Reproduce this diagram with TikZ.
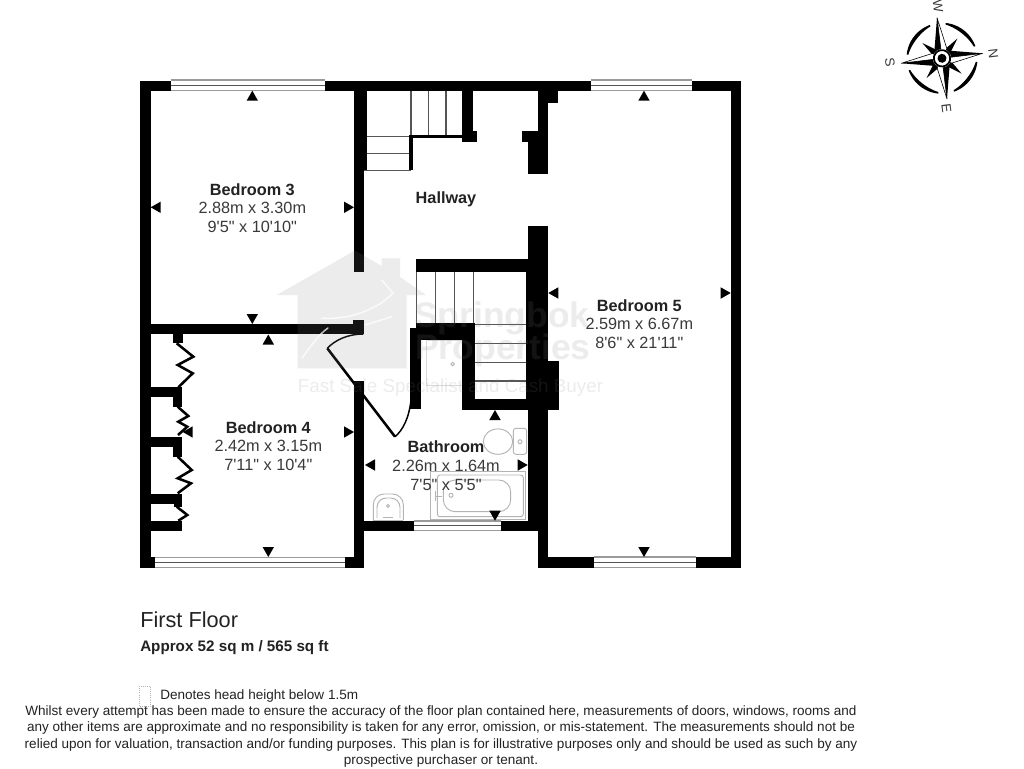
\documentclass[tikz,border=0pt]{standalone}
\usepackage{fontspec}
\setmainfont[Ligatures=TeXOff]{Liberation Sans}
\definecolor{labelgrey}{HTML}{3A3A3A}
\definecolor{namegrey}{HTML}{222222}
\definecolor{fixture}{HTML}{B4B4B4}
\definecolor{treadgrey}{HTML}{555555}
\definecolor{winedge}{HTML}{9A9A9A}
\definecolor{markgrey}{HTML}{808080}
\newcommand{\wallrect}[4]{\fill[black] (#1,#2) rectangle (#3,#4);}
\newcommand{\downtri}[2]{\fill[black] (#1,#2) -- ++(-5.7,-10) -- ++(11.4,0) -- cycle;}
\newcommand{\uptri}[2]{\fill[black] (#1,#2) -- ++(-5.7,10) -- ++(11.4,0) -- cycle;}
\newcommand{\lefttri}[2]{\fill[black] (#1,#2) -- ++(10,-5.7) -- ++(0,11.4) -- cycle;}
\newcommand{\righttri}[2]{\fill[black] (#1,#2) -- ++(-10,-5.7) -- ++(0,11.4) -- cycle;}
\newcommand{\hwindow}[4]{% x1 x2 ytop ybottom
  \fill[white] (#1,#3) rectangle (#2,#4);
  \draw[winedge,line width=0.9pt] (#1,#3) -- (#2,#3);
  \draw[winedge,line width=0.9pt] (#1,#4) -- (#2,#4);
  \draw[treadgrey,line width=0.9pt] (#1,{(#3+#4)/2}) -- (#2,{(#3+#4)/2});
}
\tikzset{
  roomname/.style={anchor=base,font=\fontsize{12.2pt}{14pt}\selectfont\bfseries,text=namegrey,inner sep=0pt},
  roomdim/.style={anchor=base,font=\fontsize{12.2pt}{14pt}\selectfont,text=labelgrey,inner sep=0pt},
  finetext/.style={anchor=base,font=\fontsize{10.15pt}{12pt}\selectfont,text=namegrey,inner sep=0pt},
  tread/.style={treadgrey,line width=0.8pt},
  fold/.style={black,line width=1.9pt,line join=miter},
  fixt/.style={fixture,line width=0.7pt},
  wmark/.style={markgrey,opacity=0.15},
  compassletter/.style={font=\fontsize{10pt}{11pt}\selectfont,text=labelgrey,inner sep=0pt,rotate=-83}
}
\begin{document}
\begin{tikzpicture}[x=0.75pt,y=-0.75pt]
\useasboundingbox (0,0) rectangle (1024,768);
\fill[white] (0,0) rectangle (1024,768);

% bathroom fixtures
\draw[fixt,rounded corners=2pt] (513.3,428.3) rectangle (526.7,454.3);
\draw[fixt] (498,441.6) ellipse [x radius=14.7,y radius=12.7];
\draw[fixt] (520,441.7) circle [radius=2];
\draw[fixt] (430,471.7) rectangle (525.7,519.3);
\draw[fixt,rounded corners=2pt] (437.3,475) rectangle (523.3,516.7);
\draw[fixt,rounded corners=9pt] (443.3,480) rectangle (510.7,511.7);
\draw[fixt] (451,495.3) circle [radius=2];
\draw[fixt] (435,496) -- (441.7,496);
\draw[fixt] (435,491) -- (435,501);
\draw[fixt,rounded corners=8pt] (373.3,520) -- (373.3,494) -- (403.3,494) -- (403.3,520);
\draw[fixt] (373.3,520) -- (403.3,520);
\draw[fixt,rounded corners=7pt] (377,518) -- (377,498) -- (400,498) -- (400,518);
\draw[fixt] (388,506) circle [radius=1.5];
\draw[fixt] (383,517) -- (393,517);
\draw[fixture!50,line width=0.7pt] (426.7,340) rectangle (462,385);
\draw[fixt] (452.7,364) circle [radius=1.8];

% stair treads
\foreach \tx in {411,428.7,446} \draw[tread] (\tx,90) -- (\tx,136);
\foreach \ty in {136.3,153.7,170.3} \draw[tread] (364,\ty) -- (411,\ty);
\foreach \tx in {416.7,435.7,454.3,473.3} \draw[tread] (\tx,271) -- (\tx,324);
\foreach \ty in {324.3,343.3,362.3,381} \draw[tread] (475,\ty) -- (526,\ty);

% walls
\wallrect{140}{80.7}{150.5}{568}
\wallrect{140}{80.7}{170.7}{90.7}
\wallrect{325}{80.7}{591}{90.7}
\wallrect{691.7}{80.7}{741.3}{90.7}
\wallrect{730.7}{80.7}{741.3}{568}
\wallrect{140}{557}{155}{568}
\wallrect{345}{557}{364}{568}
\wallrect{538}{557}{594}{568}
\wallrect{696}{557}{741.3}{568}
\wallrect{354}{90}{364}{272}
\wallrect{354}{90}{367.3}{170}
\wallrect{150}{324}{364}{334}
\wallrect{353}{320}{364}{334}
\wallrect{354}{381}{364}{568}
\wallrect{364}{520.7}{414}{530.7}
\wallrect{501}{520.7}{538}{530.7}
\wallrect{527.7}{225.7}{548.3}{530.7}
\wallrect{538}{530}{548.3}{568}
\wallrect{537.7}{90}{548.3}{174.3}
\wallrect{537.7}{90}{558.3}{103.3}
\wallrect{522.3}{131}{548.3}{141.7}
\wallrect{527.7}{141}{548.3}{174.3}
\wallrect{416}{259.3}{528}{271.7}
\wallrect{416}{323.3}{475}{340}
\wallrect{410}{328}{421}{409}
\wallrect{462.3}{340}{475}{410}
\wallrect{462.3}{399.3}{528}{410}
\wallrect{525.7}{271.7}{548}{410}
\wallrect{548}{360.7}{559}{410}
\wallrect{461.7}{90}{472.7}{131}
\wallrect{461.7}{131}{477.3}{141.7}
\wallrect{409}{135}{462}{138.3}
\wallrect{409}{135}{412.7}{170}
% wardrobes
\wallrect{172.7}{334}{182.7}{343}
\wallrect{150}{387}{182}{397}
\wallrect{172.7}{397}{182}{406.7}
\wallrect{150}{436.7}{182}{446.7}
\wallrect{172.7}{446.7}{182}{456.7}
\wallrect{150}{494}{182}{504}
\wallrect{174}{504}{182}{506.7}
\wallrect{150}{520.7}{182}{530.7}
\draw[fold] (176.7,343.3) -- (193.3,356.7) -- (177.7,365) -- (192.7,373.3) -- (178.3,387.3);
\draw[fold] (177.7,406.7) -- (188.3,416) -- (178.3,421.7) -- (187.3,426.7) -- (178,435);
\draw[fold] (177.7,456.7) -- (191.7,470) -- (177.7,478.3) -- (191,483.3) -- (177.7,493.3);
\draw[fold] (176.7,506.7) -- (187.3,515) -- (178.3,520.7);

% windows
\hwindow{170.7}{325}{80}{90.7}
\hwindow{591}{691.7}{80}{90.7}
\hwindow{155}{345}{557.3}{567.5}
\hwindow{594}{696}{557}{567.5}
\hwindow{414}{501}{521}{530.7}

% doors
\draw[black,line width=1.9pt] (327.3,348.3) -- (395,436.7);
\draw[black,line width=1.1pt] (327.3,348.3) .. controls (335,340) and (348,334) .. (363.3,334);
\draw[black,line width=1.1pt] (395,436.7) .. controls (403,430) and (409,418) .. (411,400);

% dimension markers
\uptri{252.3}{90.7}\lefttri{150.7}{207.3}\righttri{354}{207.3}\downtri{252.3}{324}
\uptri{268.3}{334.5}\lefttri{182.7}{432}\righttri{354}{432}\downtri{268.3}{557}
\lefttri{365}{465}\righttri{527.7}{465}\uptri{495}{410}\downtri{495}{520.7}
\uptri{644}{90.7}\lefttri{548.3}{293}\righttri{730.7}{293}\downtri{644}{557}

% watermark
\fill[wmark] (355,250.5) -- (381.7,266) -- (381.7,258.3) -- (400,258.3) -- (400,277) -- (426,295)
  -- (406.7,295) -- (406.7,368.3) -- (297.7,368.3) -- (297.7,295) -- (276.7,295) -- cycle;
\draw[white,opacity=0.75,line width=1.1pt,line cap=round] (302,358) .. controls (312,345) and (318,335) .. (328,328);
\draw[white,opacity=0.75,line width=1.1pt,line cap=round] (322,318) .. controls (345,320) and (375,312) .. (393,293) -- (381.7,280);
\draw[white,opacity=0.75,line width=1.1pt,line cap=round] (391.7,316.7) -- (365,325);
\node[wmark,anchor=base,inner sep=0pt,font=\fontsize{26.6pt}{30pt}\selectfont\bfseries] (wm1) at (502,327) {Springbok};
\node[wmark,anchor=base,inner sep=0pt,font=\fontsize{26.6pt}{30pt}\selectfont\bfseries] (wm2) at (503,359) {Properties};
\node[wmark,anchor=base,inner sep=0pt,font=\fontsize{14.1pt}{16pt}\selectfont] (wm3) at (450.5,392) {Fast Sale Specialist and Cash Buyer};

% room labels
\node[roomname] (b3a) at (252.3,195) {Bedroom 3};
\node[roomdim] (b3b) at (252.3,213.5) {2.88m x 3.30m};
\node[roomdim] (b3c) at (252.3,232.5) {9'5" x 10'10"};
\node[roomname] (hall) at (446,203.5) {Hallway};
\node[roomname] (b4a) at (268.3,433) {Bedroom 4};
\node[roomdim] (b4b) at (268.3,451.5) {2.42m x 3.15m};
\node[roomdim] (b4c) at (268.3,470.5) {7'11" x 10'4"};
\node[roomname] (ba) at (446,452.5) {Bathroom};
\node[roomdim] (bb) at (446,471) {2.26m x 1.64m};
\node[roomdim] (bc) at (446,490) {7'5" x 5'5"};
\node[roomname] (b5a) at (639.3,311) {Bedroom 5};
\node[roomdim] (b5b) at (639.3,329.5) {2.59m x 6.67m};
\node[roomdim] (b5c) at (639.3,348.5) {8'6" x 21'11"};

% captions
\node[anchor=base west,inner sep=0pt,text=namegrey,font=\fontsize{16.3pt}{18pt}\selectfont] (ff) at (140,627) {First Floor};
\node[anchor=base west,inner sep=0pt,text=namegrey,font=\fontsize{11.4pt}{13pt}\selectfont\bfseries] (ap) at (140,651.5) {Approx 52 sq m / 565 sq ft};
\draw[fixture,densely dotted,line width=0.6pt] (139.3,686) rectangle (150.7,706.7);
\node[finetext,anchor=base west] (den) at (160,699.5) {Denotes head height below 1.5m};
\node[finetext] (d1) at (441,715) {Whilst every attempt has been made to ensure the accuracy of the floor plan contained here, measurements of doors, windows, rooms and};
\node[finetext] (d2) at (441,731.5) {any other items are approximate and no responsibility is taken for any error, omission, or mis-statement. The measurements should not be};
\node[finetext] (d3) at (441,748) {relied upon for valuation, transaction and/or funding purposes. This plan is for illustrative purposes only and should be used as such by any};
\node[finetext] (d4) at (441,764.5) {prospective purchaser or tenant.};

% compass
\begin{scope}[shift={(942,58.3)},rotate=7]
  \foreach \q in {0,90,180,270} {
    \begin{scope}[rotate=\q]
      \fill[black] plot[domain=13:77,samples=24] ({35.5*cos(\x)},{35.5*sin(\x)})
        -- plot[domain=77:13,samples=24] ({(35.5-3.6*sin(2*\x))*cos(\x)},{(35.5-3.6*sin(2*\x))*sin(\x)}) -- cycle;
      \fill[black] ({8*cos(18)},{8*sin(18)}) -- ({25*cos(45)},{25*sin(45)}) -- ({8*cos(72)},{8*sin(72)}) -- cycle;
      \filldraw[fill=white,draw=black,line width=0.45pt,line join=miter] (0,0) -- (41,0) -- (9,6) -- cycle;
      \fill[black] (0,0) -- (41,0) -- (9,-6.5) -- cycle;
    \end{scope}
  }
  \fill[white] (0,0) circle [radius=9.2];
  \draw[black,line width=1.3pt] (0,0) circle [radius=8.2];
  \fill[black] (0,0) circle [radius=4.5];
\end{scope}
\node[compassletter] (cn) at (993.3,53.3) {N};
\node[compassletter] (cw) at (938,6.5) {W};
\node[compassletter] (cs) at (890,62) {S};
\node[compassletter] (ce) at (946.5,108) {E};
\end{tikzpicture}
\end{document}
